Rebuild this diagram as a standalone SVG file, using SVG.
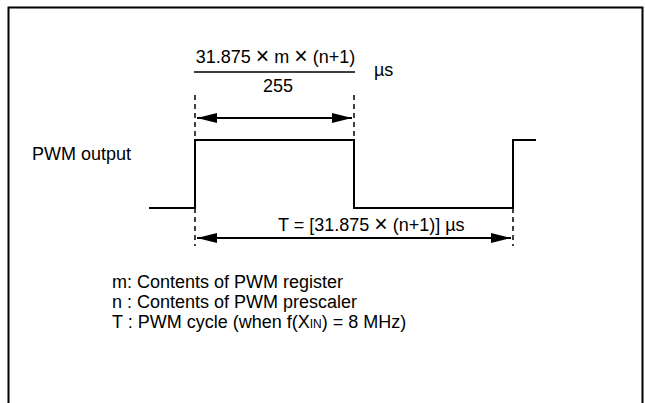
<svg xmlns="http://www.w3.org/2000/svg" width="645" height="403" viewBox="0 0 645 403">
<style>
text{font-family:"Liberation Sans",Arial,sans-serif;fill:#000}
.w{fill:none;stroke:#000;stroke-width:2}
.d{fill:none;stroke:#000;stroke-width:1.5;stroke-dasharray:5,4}
.a{fill:none;stroke:#000;stroke-width:2}
</style>
<defs>
<marker id="ah" markerWidth="20" markerHeight="10" refX="20" refY="5" orient="auto-start-reverse" markerUnits="userSpaceOnUse">
<path d="M0,0 L20,5 L0,10 Z" fill="#000"/>
</marker>
</defs>
<rect x="8.5" y="7.5" width="634" height="410" fill="#fff" stroke="#000" stroke-width="2"/>
<g id="connectors">
<path class="w" d="M149,208 H195 V140 H354 V208 H513 V140 H536"/>
<line class="d" x1="195" y1="95" x2="195" y2="140"/>
<line class="d" x1="354" y1="95" x2="354" y2="140"/>
<line class="d" x1="195" y1="208" x2="195" y2="246"/>
<line class="d" x1="513" y1="208" x2="513" y2="246"/>
<line class="a" x1="197" y1="118" x2="352" y2="118" marker-start="url(#ah)" marker-end="url(#ah)"/>
<line class="a" x1="197" y1="238" x2="511" y2="238" marker-start="url(#ah)" marker-end="url(#ah)"/>
<line x1="194" y1="72" x2="355" y2="72" stroke="#000" stroke-width="1.5"/>
</g>
<g id="formula">
<text x="275.5" y="63" font-size="18" text-anchor="middle">31.875 <tspan font-size="23" dy="1">×</tspan><tspan dy="-1"> m </tspan><tspan font-size="23" dy="1">×</tspan><tspan dy="-1"> (n+1)</tspan></text>
<text x="278" y="92" font-size="18" text-anchor="middle">255</text>
<text x="374" y="76" font-size="18">µs</text>
</g>
<g id="label-pwm">
<text x="32" y="160" font-size="18">PWM output</text>
</g>
<g id="label-period">
<text x="278" y="231" font-size="18">T = [31.875  <tspan font-size="23" dy="1">×</tspan><tspan dy="-1"> (n+1)] µs</tspan></text>
</g>
<g id="legend">
<text x="112" y="288" font-size="18">m: Contents of PWM register</text>
<text x="112" y="308" font-size="18">n : Contents of PWM prescaler</text>
<text x="112" y="328" font-size="18">T : PWM cycle (when f(X<tspan font-size="12">IN</tspan>) = 8 MHz)</text>
</g>
</svg>
